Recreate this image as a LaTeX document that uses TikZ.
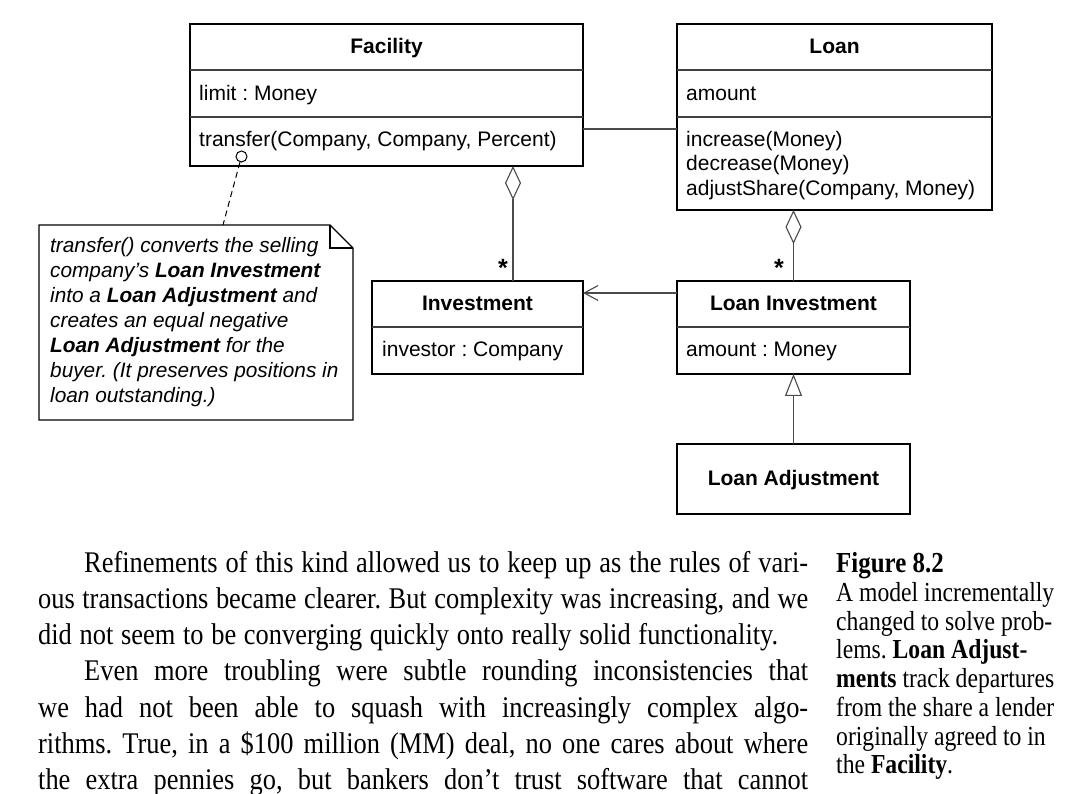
\documentclass[tikz,border=0pt]{standalone}
\usepackage{fontspec}
\setmainfont{Liberation Sans}
\newfontfamily\umlfont{Liberation Sans}
\newfontfamily\bodyfont[FakeStretch=0.88]{Liberation Serif}
\newfontfamily\capfont[FakeStretch=0.86]{Liberation Serif}
\usetikzlibrary{arrows.meta}
\definecolor{connc}{HTML}{4A4A4A}
\frenchspacing
\begin{document}
\begin{tikzpicture}[x=1pt,y=-1pt,
  classbox/.style={draw=black, line width=1.6pt, fill=white, anchor=north west, inner sep=0pt, outer sep=0pt},
  divider/.style={line width=1.1pt, draw=black!75},
  conn/.style={line width=1.1pt, draw=connc},
  umltext/.style={font=\umlfont\fontsize{21}{24}\selectfont, inner sep=0pt, anchor=base west},
  umltitle/.style={font=\umlfont\bfseries\fontsize{21}{24}\selectfont, inner sep=0pt, anchor=base},
  notetext/.style={font=\umlfont\itshape\fontsize{20.8}{25}\selectfont, inner sep=0pt, anchor=base west},
  mult/.style={font=\umlfont\bfseries\fontsize{25}{25}\selectfont, inner sep=0pt, anchor=base},
  bodytext/.style={font=\bodyfont\fontsize{30}{36}\selectfont, inner sep=0pt, anchor=base west},
  captext/.style={font=\capfont\fontsize{27.5}{29}\selectfont, inner sep=0pt, anchor=base west},
]
\useasboundingbox[fill=white] (0,0) rectangle (1072,794);

% ---------- classes ----------
\node[classbox, minimum width=393pt, minimum height=142pt] (fac) at (190,24) {};
\draw[divider] (190,70) -- (583,70);
\draw[divider] (190,117) -- (583,117);
\node[umltitle] (facT) at (386.5,53.5) {Facility};
\node[umltext] (facA) at (199,100.5) {limit : Money};
\node[umltext] (facM) at (199,147) {transfer(Company, Company, Percent)};

\node[classbox, minimum width=315pt, minimum height=186pt] (loan) at (677,24) {};
\draw[divider] (677,70) -- (992,70);
\draw[divider] (677,117) -- (992,117);
\node[umltitle] (loanT) at (834.5,53.5) {Loan};
\node[umltext] (loanA) at (686,100.5) {amount};
\node[umltext] (loanM1) at (686,146.5) {increase(Money)};
\node[umltext] (loanM2) at (686,171) {decrease(Money)};
\node[umltext] (loanM3) at (686,195.5) {adjustShare(Company, Money)};

\node[classbox, minimum width=211pt, minimum height=93pt] (inv) at (372,281) {};
\draw[divider] (372,327) -- (583,327);
\node[umltitle] (invT) at (477.5,310.5) {Investment};
\node[umltext] (invA) at (382,356.5) {investor : Company};

\node[classbox, minimum width=233pt, minimum height=93pt] (li) at (677,281) {};
\draw[divider] (677,327) -- (910,327);
\node[umltitle] (liT) at (793.5,310.5) {Loan Investment};
\node[umltext] (liA) at (686,356.5) {amount : Money};

\node[classbox, minimum width=233pt, minimum height=70pt] (adj) at (677,444) {};
\node[umltitle] (adjT) at (793.5,485.5) {Loan Adjustment};

% ---------- connectors ----------
\draw[conn] (fac.east |- 0,129) -- (loan.west |- 0,129);
\draw[conn, {Diamond[open,length=34pt,width=16pt]}-] (fac.south -| 513,0) -- (inv.north -| 513,0);
\draw[conn, {Diamond[open,length=34pt,width=16pt]}-] (loan.south -| li.north) -- (li.north);
\draw[conn, -{Straight Barb[length=14pt,width=15pt]}] (li.west |- 0,293) -- (inv.east |- 0,293);
\draw[conn, -{Triangle[open,length=22pt,width=17pt]}] (adj.north) -- (li.south);
\node[mult] (m1) at (503,277) {*};
\node[mult] (m2) at (779,277) {*};

% ---------- note ----------
\draw[line width=1.1pt, fill=white] (39,225) -- (330,225) -- (353,248) -- (353,420) -- (39,420) -- cycle;
\draw[line width=1.1pt] (330,225) -- (330,248) -- (353,248);
\coordinate (notetop) at (223,225);
\node[circle, draw=black, fill=white, line width=1pt, minimum size=11pt, inner sep=0pt] (pin) at (241.5,156.5) {};
\draw[line width=1pt, dash pattern=on 6pt off 4pt] (pin) -- (notetop);
\node[notetext] (n1) at (50,253) {transfer() converts the selling};
\node[notetext] (n2) at (50,278) {company’s \textbf{Loan Investment}};
\node[notetext] (n3) at (50,303) {into a \textbf{Loan Adjustment} and};
\node[notetext] (n4) at (50,328) {creates an equal negative};
\node[notetext] (n5) at (50,353) {\textbf{Loan Adjustment} for the};
\node[notetext] (n6) at (50,378) {buyer. (It preserves positions in};
\node[notetext] (n7) at (50,403) {loan outstanding.)};

% ---------- body text ----------
\node[bodytext] (b1) at (84,572) {\makebox[724pt][s]{Refinements of this kind allowed us to keep up as the rules of vari-}};
\node[bodytext] (b2) at (38,608) {\makebox[770pt][s]{ous transactions became clearer. But complexity was increasing, and we}};
\node[bodytext] (b3) at (38,644) {\makebox[740pt][s]{did not seem to be converging quickly onto really solid functionality.}};
\node[bodytext] (b4) at (84,680) {\makebox[724pt][s]{Even more troubling were subtle rounding inconsistencies that}};
\node[bodytext] (b5) at (38,717) {\makebox[770pt][s]{we had not been able to squash with increasingly complex algo-}};
\node[bodytext] (b6) at (38,753) {\makebox[770pt][s]{rithms. True, in a \$100 million (MM) deal, no one cares about where}};
\node[bodytext] (b7) at (38,789) {\makebox[770pt][s]{the extra pennies go, but bankers don’t trust software that cannot}};

% ---------- caption ----------
\node[captext, font=\capfont\bfseries\fontsize{29}{30}\selectfont] (c0) at (836,572) {Figure 8.2};
\node[captext] (c1) at (836,601) {A model incrementally};
\node[captext] (c2) at (836,630) {changed to solve prob-};
\node[captext] (c3) at (836,658) {lems. \textbf{Loan Adjust-}};
\node[captext] (c4) at (836,687) {\textbf{ments} track departures};
\node[captext] (c5) at (836,716) {from the share a lender};
\node[captext] (c6) at (836,745) {originally agreed to in};
\node[captext] (c7) at (836,773) {the \textbf{Facility}.};
\end{tikzpicture}
\end{document}
